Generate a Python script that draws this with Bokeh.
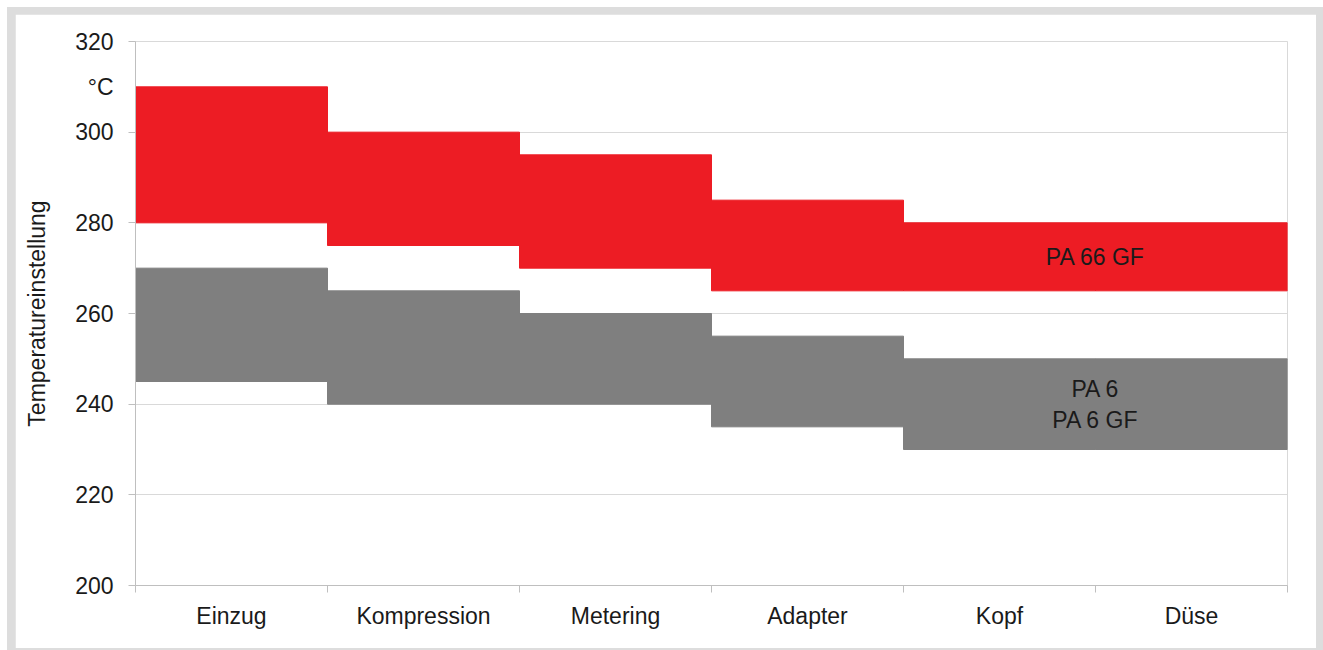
from bokeh.plotting import figure
from bokeh.layouts import column
from bokeh.models import Range1d, FixedTicker, Label, ColumnDataSource
from bokeh.embed import file_html
from bokeh.resources import INLINE

categories = ["Einzug", "Kompression", "Metering", "Adapter", "Kopf", "Düse"]
red_low = [280, 275, 270, 265, 265, 265]
red_high = [310, 300, 295, 285, 280, 280]
gray_low = [245, 240, 240, 235, 230, 230]
gray_high = [270, 265, 260, 255, 250, 250]
y_ticks = [200, 220, 240, 260, 280, 300, 320]
unit_pos = 310
y_unit = "°C"
y_title = "Temperatureinstellung"
red_name = "PA 66 GF"
gray_name = "PA 6\nPA 6 GF"

FONT = "Liberation Sans"
FS = "23px"
TXT = "#1a1a1a"
RED = "#ED1C24"
GRAY = "#7f7f7f"
FRAME = "#dddddd"

n = len(categories)
src = ColumnDataSource(dict(
    left=list(range(n)), right=[i + 1 for i in range(n)],
    red_low=red_low, red_high=red_high, gray_low=gray_low, gray_high=gray_high,
))

p = figure(width=1301, height=634, output_backend="svg", toolbar_location=None,
           x_range=Range1d(0, n), y_range=Range1d(200, 320),
           min_border_left=120, min_border_right=29, min_border_top=27, min_border_bottom=63)
p.background_fill_color = "white"
p.border_fill_color = "white"
p.outline_line_color = "#d9d9d9"
p.margin = (7, 7, 2, 8)

p.quad(left="left", right="right", bottom="red_low", top="red_high", source=src,
       fill_color=RED, line_color=RED, line_width=1)
p.quad(left="left", right="right", bottom="gray_low", top="gray_high", source=src,
       fill_color=GRAY, line_color=GRAY, line_width=1)

# x axis: labels at centres, ticks at boundaries
centers = [i + 0.5 for i in range(n)]
p.xaxis.ticker = FixedTicker(ticks=centers, minor_ticks=list(range(n + 1)))
p.xaxis.major_label_overrides = {c: lab for c, lab in zip(centers, categories)}
p.xaxis.major_tick_line_color = None
p.xaxis.major_tick_out = 0
p.xaxis.major_tick_in = 0
p.xaxis.minor_tick_line_color = "#bfbfbf"
p.xaxis.minor_tick_out = 7
p.xaxis.minor_tick_in = 0
p.xaxis.major_label_standoff = 10
p.xaxis.axis_line_color = "#bfbfbf"
p.xgrid.grid_line_color = None

# y axis: numeric ticks plus the unit label at 310 (no tick mark there)
p.yaxis.ticker = FixedTicker(ticks=y_ticks + [unit_pos], minor_ticks=y_ticks)
p.yaxis.major_label_overrides = {unit_pos: y_unit}
p.yaxis.major_tick_line_color = None
p.yaxis.major_tick_out = 7
p.yaxis.major_tick_in = 0
p.yaxis.minor_tick_line_color = "#bfbfbf"
p.yaxis.minor_tick_out = 7
p.yaxis.minor_tick_in = 0
p.yaxis.major_label_standoff = 15
p.yaxis.axis_line_color = "#bfbfbf"
p.yaxis.axis_label = y_title
p.yaxis.axis_label_standoff = 22
p.ygrid.ticker = FixedTicker(ticks=y_ticks)
p.ygrid.grid_line_color = "#d9d9d9"

for ax in (p.xaxis, p.yaxis):
    ax.major_label_text_font = FONT
    ax.major_label_text_font_size = FS
    ax.major_label_text_color = TXT
    ax.axis_label_text_font = FONT
    ax.axis_label_text_font_size = FS
    ax.axis_label_text_color = TXT
    ax.axis_label_text_font_style = "normal"

p.add_layout(Label(x=5, y=(red_low[-1] + red_high[-1]) / 2, text=red_name,
                   text_align="center", text_baseline="middle", text_font=FONT,
                   text_font_size=FS, text_color=TXT))
p.add_layout(Label(x=5, y=(gray_low[-1] + gray_high[-1]) / 2, text=gray_name,
                   text_align="center", text_baseline="middle", text_font=FONT,
                   text_font_size=FS, text_color=TXT, text_line_height=1.2))

page = column(p, styles={"background-color": FRAME})
page.margin = (7, 0, 0, 7)

open("out.html", "w").write(file_html(page, INLINE))
